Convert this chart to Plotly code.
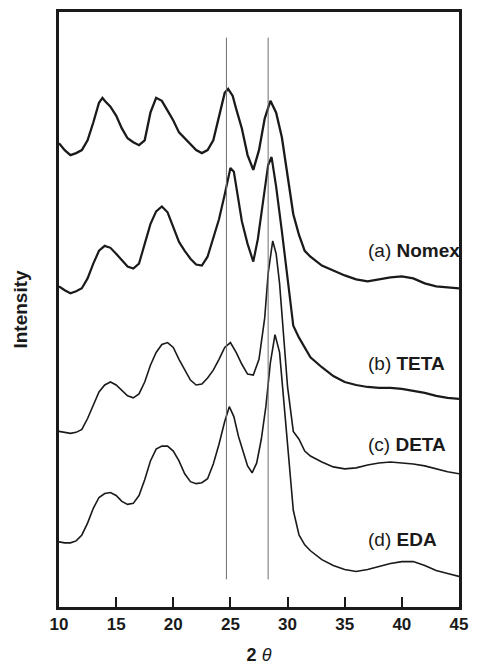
import plotly.graph_objects as go

# ---- data (2θ in degrees, intensity in arbitrary units, curves offset vertically) ----
theta_a = [10, 10.5, 11, 11.5, 12, 12.5, 13, 13.5, 13.8, 14, 14.5, 15, 15.5, 16, 16.5, 17, 17.5, 18, 18.5, 19,
           19.5, 20, 20.5, 21, 21.5, 22, 22.5, 23, 23.5, 24, 24.5, 24.8, 25.2, 25.5, 26, 26.5, 27, 27.5, 28, 28.5,
           29, 29.5, 30, 30.5, 31, 31.5, 32, 32.5, 33, 34, 35, 36, 37, 38, 39, 40, 41, 42, 43, 44, 45]
int_a = [470, 463, 458, 460, 463, 473, 491, 511, 516, 513, 507, 498, 485, 475, 471, 468, 473, 501, 516, 513,
         503, 493, 481, 475, 468, 463, 460, 463, 473, 498, 521, 525, 518, 505, 485, 458, 443, 463, 495, 513,
         501, 476, 438, 398, 377, 361, 355, 350, 346, 341, 336, 332, 330, 332, 334, 335, 333, 328, 325, 324, 323]

theta_b = [10, 10.5, 11, 11.5, 12, 12.5, 13, 13.5, 14, 14.5, 15, 15.5, 16, 16.5, 17, 17.5, 18, 18.5, 19, 19.5,
           20, 20.5, 21, 21.5, 22, 22.5, 23, 23.5, 24, 24.5, 25, 25.3, 25.7, 26, 26.5, 27, 27.4, 27.7, 28, 28.3,
           28.6, 29, 29.5, 30, 30.5, 31, 31.5, 32, 33, 34, 35, 36, 37, 38, 39, 40, 41, 42, 43, 44, 45]
int_b = [325, 321, 318, 320, 323, 333, 348, 361, 366, 364, 358, 351, 345, 343, 348, 368, 388, 401, 406, 400,
         385, 370, 361, 353, 347, 346, 355, 373, 393, 418, 445, 441, 413, 391, 368, 350, 373, 398, 423, 448,
         456, 426, 381, 333, 285, 273, 263, 253, 243, 234, 228, 225, 223, 222, 222, 221, 219, 217, 214, 212, 211]

theta_c = [10, 10.5, 11, 11.5, 12, 12.5, 13, 13.5, 14, 14.5, 15, 15.5, 16, 16.5, 17, 17.5, 18, 18.5, 19, 19.5,
           20, 20.5, 21, 21.5, 22, 22.5, 23, 23.5, 24, 24.5, 25, 25.5, 26, 26.5, 27, 27.5, 28, 28.3, 28.7, 29,
           29.3, 29.7, 30, 30.5, 31, 31.5, 32, 33, 34, 35, 36, 37, 38, 39, 40, 41, 42, 43, 44, 45]
int_c = [178, 177, 176, 177, 180, 191, 205, 218, 225, 228, 225, 219, 214, 212, 216, 228, 245, 258, 266, 268,
         263, 251, 240, 230, 225, 226, 232, 240, 251, 263, 268, 258, 246, 236, 235, 251, 293, 338, 371, 358,
         328, 273, 223, 178, 170, 158, 153, 147, 142, 140, 141, 144, 146, 147, 146, 145, 143, 140, 137, 135]

theta_d = [10, 10.5, 11, 11.5, 12, 12.5, 13, 13.5, 14, 14.5, 15, 15.5, 16, 16.5, 17, 17.5, 18, 18.5, 19, 19.5,
           20, 20.5, 21, 21.5, 22, 22.5, 23, 23.5, 24, 24.5, 24.9, 25.3, 25.7, 26, 26.5, 26.9, 27.3, 27.7, 28.1, 28.5,
           28.9, 29.3, 29.7, 30, 30.2, 30.5, 31, 31.5, 32, 33, 34, 35, 36, 37, 38, 39, 40, 41, 42, 43, 44, 45]
int_d = [66, 65, 65, 67, 73, 85, 100, 111, 115, 116, 113, 107, 104, 105, 113, 129, 148, 160, 163, 163,
         158, 148, 135, 127, 125, 126, 130, 145, 165, 188, 203, 193, 173, 161, 143, 136, 146, 170, 203, 248,
         276, 258, 203, 158, 133, 98, 73, 63, 57, 48, 42, 38, 36, 38, 41, 44, 46, 46, 42, 37, 34, 31]

series_thetas = [theta_a, theta_b, theta_c, theta_d]
series_values = [int_a, int_b, int_c, int_d]
series_tags = ["(a)", "(b)", "(c)", "(d)"]
series_names = ["Nomex", "TETA", "DETA", "EDA"]
label_heights = [361, 247, 165, 68]

ref_peaks = [24.65, 28.3]          # vertical reference lines (2θ)
ref_span = [28, 577]               # their vertical extent (intensity units)

x_ticks = [10, 15, 20, 25, 30, 35, 40, 45]

fig = go.Figure()
widths = [2.3, 2.2, 1.6, 1.6]
for th, vals, w in zip(series_thetas, series_values, widths):
    fig.add_trace(go.Scatter(x=th, y=vals, mode="lines",
                             line=dict(color="#1a1a1a", width=w), showlegend=False))

for p in ref_peaks:
    fig.add_trace(go.Scatter(x=[p, p], y=ref_span, mode="lines",
                             line=dict(color="#6e6e6e", width=1), showlegend=False))

for tag, name, h in zip(series_tags, series_names, label_heights):
    fig.add_annotation(x=36.9, y=h, xref="x", yref="y", xanchor="left", yanchor="middle",
                       text=f"{tag} <b>{name}</b>", showarrow=False,
                       font=dict(family="Liberation Sans, Arial, sans-serif", size=19, color="#1a1a1a"))

fig.update_layout(
    width=477, height=672,
    margin=dict(l=59, r=9, t=10, b=59),
    paper_bgcolor="white", plot_bgcolor="white",
    font=dict(family="Liberation Sans, Arial, sans-serif", color="#1a1a1a"),
    xaxis=dict(range=[10, 45], tickvals=x_ticks, ticktext=[f"<b>{t}</b>" for t in x_ticks],
               ticks="inside", ticklen=10, tickwidth=2, tickcolor="#1a1a1a",
               showline=True, linewidth=2.5, linecolor="#1a1a1a", mirror=True,
               showgrid=False, zeroline=False, tickfont=dict(size=17),
               title=dict(text="<b>2</b> <i>θ</i>", font=dict(size=18), standoff=16)),
    yaxis=dict(range=[0, 603], showticklabels=False, ticks="",
               showline=True, linewidth=2.5, linecolor="#1a1a1a", mirror=True,
               showgrid=False, zeroline=False,
               title=dict(text="<b>Intensity</b>", font=dict(size=19), standoff=24)),
)

fig.write_html("out.html")
